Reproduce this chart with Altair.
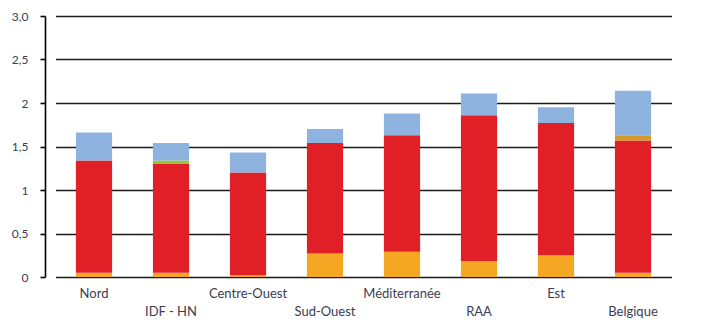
import altair as alt
import pandas as pd

# Regions along the x axis (every other label sits on a second row)
regions = ["Nord", "IDF - HN", "Centre-Ouest", "Sud-Ouest",
           "Méditerranée", "RAA", "Est", "Belgique"]
lower_row = ["IDF - HN", "Sud-Ouest", "RAA", "Belgique"]

# Stacked components, bottom to top
series = ["orange", "rouge", "vert", "ocre", "bleu"]
colors = ["#F5A623", "#E01F26", "#9DC23B", "#D69A2A", "#8DB3DE"]

orange = [0.05, 0.05, 0.02, 0.27, 0.29, 0.18, 0.25, 0.05]
rouge = [1.29, 1.25, 1.18, 1.27, 1.34, 1.68, 1.52, 1.52]
vert = [0.00, 0.04, 0.00, 0.00, 0.00, 0.00, 0.00, 0.00]
ocre = [0.00, 0.00, 0.00, 0.00, 0.00, 0.00, 0.00, 0.06]
bleu = [0.32, 0.20, 0.23, 0.16, 0.25, 0.25, 0.18, 0.51]

y_ticks = [0, 0.5, 1, 1.5, 2, 2.5, 3]
y_labels = ["0", "0,5", "1", "1,5", "2", "2,5", "3,0"]

rows = []
for name, vals in zip(series, [orange, rouge, vert, ocre, bleu]):
    for reg, v in zip(regions, vals):
        rows.append({"region": reg, "serie": name, "valeur": v,
                     "rang": series.index(name)})
df = pd.DataFrame(rows)

label_map = "{" + ",".join(f"'{t}':'{l}'" for t, l in zip(y_ticks, y_labels)) + "}"
y_label_expr = f"{label_map}[toString(datum.value)]"
low_list = "[" + ",".join(f"'{r}'" for r in lower_row) + "]"
x_label_expr = f"indexof({low_list}, datum.value) >= 0 ? ['', datum.value] : datum.value"

text_color = "#3a3d55"
font = "Lato"

chart = alt.Chart(df).mark_bar().encode(
    x=alt.X("region:N", sort=regions, title=None,
            scale=alt.Scale(range=[10.5, 626.5], paddingInner=0.53, paddingOuter=0.265),
            axis=alt.Axis(domain=False, ticks=False, labelAngle=0,
                          labelExpr=x_label_expr, labelFont=font, labelFontSize=13,
                          labelColor=text_color, labelPadding=10,
                          labelLineHeight=18, labelBaseline="top")),
    y=alt.Y("valeur:Q", stack="zero", title=None,
            scale=alt.Scale(domain=[0, 3], nice=False),
            axis=alt.Axis(values=y_ticks, labelExpr=y_label_expr, grid=True,
                          gridColor="#1a1a1a", gridWidth=1.6,
                          domain=True, domainColor="#000000", domainWidth=1.6,
                          ticks=True, tickSize=5, tickColor="#000000", tickWidth=1.6,
                          labelFont=font, labelFontSize=12, labelColor=text_color,
                          labelPadding=12)),
    color=alt.Color("serie:N", scale=alt.Scale(domain=series, range=colors), legend=None),
    order=alt.Order("rang:Q"),
).properties(
    width=657,
    height=261,
    autosize=alt.AutoSizeParams(type="none"),
    padding={"left": 45, "top": 16, "right": 0, "bottom": 47},
).configure_view(stroke=None).configure_axis(gridCap="butt")

chart.save("out.html", embed_options={"renderer": "svg", "actions": False})
